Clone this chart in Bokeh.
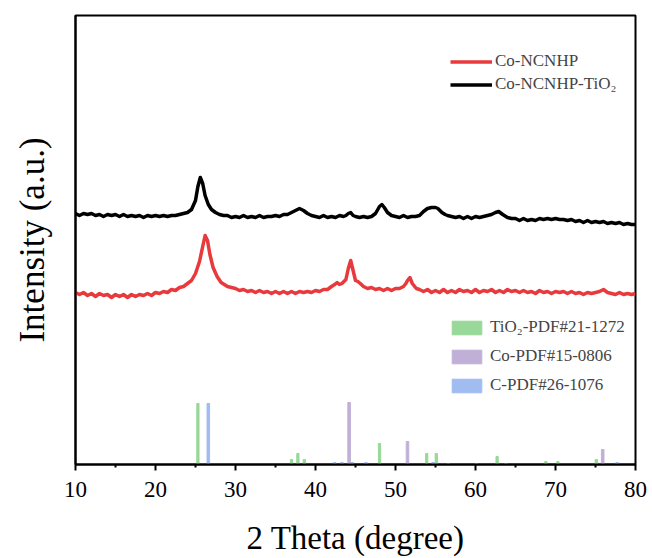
from bokeh.plotting import figure
from bokeh.models import Legend, LegendItem, Range1d, FixedTicker
from bokeh.embed import file_html
from bokeh.resources import INLINE

# ---- data ----
tio2_two_theta = [10, 10.5, 11, 11.5, 12, 12.5, 13, 13.5, 14, 14.5, 15, 15.5, 16, 16.5, 17, 17.5, 18,
                  18.5, 19, 19.5, 20, 20.5, 21, 21.5, 22, 22.5, 23, 23.5, 24, 24.5, 25.0, 25.3, 25.6,
                  25.9, 26.2, 26.6, 27.0, 27.5, 28, 28.5, 29, 29.5, 30, 30.5, 31, 31.5, 32, 32.5, 33,
                  33.5, 34, 34.5, 35, 35.5, 36, 36.5, 37.0, 37.5, 38.0, 38.5, 39.0, 39.5, 40, 40.5, 41,
                  41.5, 42, 42.5, 43, 43.5, 43.8, 44.1, 44.4, 44.7, 45.0, 45.5, 46, 46.5, 47, 47.5,
                  48.0, 48.3, 48.6, 49.0, 49.5, 50, 50.5, 51, 51.5, 52, 52.5, 53, 53.5, 54.0, 54.5,
                  55.0, 55.3, 55.8, 56.2, 56.5, 57, 57.5, 58, 58.5, 59, 59.5, 60, 60.5, 61, 61.5, 62,
                  62.5, 62.9, 63.4, 64, 64.5, 65, 65.5, 66, 66.5, 67, 67.5, 68, 68.5, 69, 69.5, 70,
                  70.5, 71, 71.5, 72, 72.5, 73, 73.5, 74, 74.5, 75, 75.5, 76, 76.5, 77, 77.5, 78, 78.5,
                  79, 79.5, 80]
tio2_intensity = [251, 249, 251, 250, 251, 249, 250, 248, 250, 249, 250, 248, 250, 248, 249, 248, 249,
                  247, 249, 248, 249, 248, 249, 248, 249, 249, 250, 251, 252, 255, 264, 278, 287,
                  281, 269, 260, 255, 252, 250, 249, 249, 247, 248, 247, 249, 247, 248, 247, 249,
                  247, 248, 248, 249, 248, 250, 250, 252, 254, 256, 254, 251, 249, 248, 247, 249,
                  247, 248, 247, 249, 248, 249, 251, 252, 249, 248, 247, 248, 247, 248, 251,
                  258, 260, 257, 252, 249, 248, 247, 249, 247, 248, 248, 249, 253, 256, 257,
                  257, 256, 252, 250, 249, 248, 247, 248, 246, 248, 246, 248, 247, 248, 249, 250,
                  252, 253, 250, 247, 246, 246, 244, 246, 244, 245, 244, 246, 245, 246, 245, 246,
                  245, 245, 244, 245, 243, 244, 242, 244, 242, 243, 242, 243, 241, 242, 241, 242, 240,
                  241, 240, 240]

co_two_theta = [10, 10.5, 11, 11.5, 12, 12.5, 13, 13.5, 14, 14.5, 15, 15.5, 16, 16.5, 17, 17.5, 18,
                18.5, 19, 19.5, 20, 20.5, 21, 21.5, 22, 22.5, 23, 23.5, 24, 24.5, 25.0, 25.5, 25.9,
                26.2, 26.5, 26.8, 27.2, 27.7, 28.2, 28.6, 29, 29.5, 30, 30.5, 31, 31.5, 32, 32.5, 33,
                33.5, 34, 34.5, 35, 35.5, 36, 36.5, 37, 37.5, 38, 38.5, 39, 39.5, 40, 40.5, 41, 41.5,
                42, 42.4, 42.7, 43.0, 43.3, 43.8, 44.1, 44.4, 44.7, 45.0, 45.3, 45.6, 46, 46.5, 47,
                47.5, 48, 48.5, 49, 49.5, 50, 50.5, 51, 51.3, 51.5, 51.8, 52.1, 52.6, 53, 53.5, 54,
                54.5, 55, 55.5, 56, 56.5, 57, 57.5, 58, 58.5, 59, 59.5, 60, 60.5, 61, 61.5, 62, 62.5,
                63, 63.5, 64, 64.5, 65, 65.5, 66, 66.5, 67, 67.5, 68, 68.5, 69, 69.5, 70, 70.5, 71,
                71.5, 72, 72.5, 73, 73.5, 74, 74.5, 75, 75.5, 76, 76.5, 77, 77.5, 78, 78.5, 79, 79.5,
                80]
co_intensity = [172, 170, 172, 169, 171, 168, 171, 169, 170, 167, 170, 168, 170, 167, 170, 168, 170,
                169, 171, 169, 172, 171, 173, 172, 175, 174, 177, 178, 181, 184, 191, 203, 218,
                229, 224, 210, 197, 188, 182, 180, 178, 177, 176, 174, 175, 173, 174, 172, 174,
                172, 173, 171, 173, 171, 173, 171, 173, 171, 173, 172, 173, 172, 174, 173, 175, 175,
                178, 180, 182, 180, 181, 185, 196, 204, 194, 184, 183, 181, 178, 176, 177,
                175, 176, 174, 176, 174, 176, 176, 178, 181, 184, 187, 181, 176, 175, 173, 175,
                172, 174, 172, 175, 172, 174, 172, 175, 173, 174, 172, 175, 172, 174, 173, 175, 172,
                174, 172, 175, 173, 174, 172, 174, 172, 173, 171, 174, 172, 173, 171, 173, 172, 173,
                171, 173, 171, 172, 170, 172, 171, 172, 173, 175, 172, 171, 170, 172, 170, 171, 170,
                171]

pdf_tio2_pos = [25.3, 37.0, 37.8, 38.6, 48.0, 53.9, 55.1, 62.7, 68.8, 70.3, 75.1]
pdf_tio2_int = [61, 5, 11, 5, 21, 11, 11, 8, 3, 3, 5]

pdf_co_pos = [44.2, 51.5, 75.9]
pdf_co_int = [62, 23, 15]

pdf_c_pos = [26.6, 42.4, 43.3, 44.6, 46.3, 54.7, 56.6, 60.1, 63.8, 77.7]
pdf_c_int = [61, 2, 2, 2, 2, 2, 1, 1, 1, 2]

x_ticks = [10, 20, 30, 40, 50, 60, 70, 80]
x_minor_ticks = [15, 25, 35, 45, 55, 65, 75]

# ---- styling ----
RED = "#e8393c"
BLACK = "#000000"
GREEN = "#98d898"
PURPLE = "#c0b0d8"
BLUE = "#a0bcf0"
FONT = "Liberation Serif"

p = figure(width=652, height=558, output_backend="svg", toolbar_location=None,
           x_range=Range1d(10, 80), y_range=Range1d(0, 449),
           min_border_left=75, min_border_right=17, min_border_top=15, min_border_bottom=94)
p.background_fill_color = "white"
p.border_fill_color = "white"
p.grid.visible = False
p.outline_line_color = "black"
p.outline_line_width = 2

r_co = p.line(co_two_theta, co_intensity, line_color=RED, line_width=3.5, line_join="round")
r_ti = p.line(tio2_two_theta, tio2_intensity, line_color=BLACK, line_width=3.5, line_join="round")

b_ti = p.vbar(x=pdf_tio2_pos, top=pdf_tio2_int, bottom=0, width=0.28,
              fill_color=GREEN, line_color=GREEN)
b_co = p.vbar(x=pdf_co_pos, top=pdf_co_int, bottom=0, width=0.32,
              fill_color=PURPLE, line_color=PURPLE)
b_c = p.vbar(x=pdf_c_pos, top=pdf_c_int, bottom=0, width=0.32,
             fill_color=BLUE, line_color=BLUE)

# x axis
xa = p.xaxis[0]
xa.ticker = FixedTicker(ticks=x_ticks, minor_ticks=x_minor_ticks)
xa.axis_line_width = 2
xa.major_tick_line_width = 2
xa.minor_tick_line_width = 2
xa.major_tick_out = 6
xa.major_tick_in = 0
xa.minor_tick_out = 3
xa.minor_tick_in = 0
xa.major_label_text_font = FONT
xa.major_label_text_font_size = "23px"
xa.major_label_text_color = "black"
xa.major_label_standoff = 11
xa.axis_label = "2 Theta (degree)"
xa.axis_label_text_font = FONT
xa.axis_label_text_font_size = "33px"
xa.axis_label_text_font_style = "normal"
xa.axis_label_text_color = "black"
xa.axis_label_standoff = 20

# y axis
ya = p.yaxis[0]
ya.ticker = FixedTicker(ticks=[])
ya.axis_line_width = 2
ya.major_tick_line_color = None
ya.minor_tick_line_color = None
ya.major_label_text_font_size = "0px"
ya.axis_label = "Intensity (a.u.)"
ya.axis_label_text_font = FONT
ya.axis_label_text_font_size = "35px"
ya.axis_label_text_font_style = "normal"
ya.axis_label_text_color = "black"
ya.axis_label_standoff = 24

leg1 = Legend(items=[LegendItem(label="Co-NCNHP", renderers=[r_co]),
                     LegendItem(label="Co-NCNHP-TiO\u2082", renderers=[r_ti])],
              location=(375, 370), padding=0, margin=0, spacing=3,
              glyph_width=42, glyph_height=17, label_height=17, label_standoff=3,
              label_text_font=FONT, label_text_font_size="17px",
              border_line_color=None, background_fill_alpha=0)
leg2 = Legend(items=[LegendItem(label="TiO\u2082-PDF#21-1272", renderers=[b_ti]),
                     LegendItem(label="Co-PDF#15-0806", renderers=[b_co]),
                     LegendItem(label="C-PDF#26-1076", renderers=[b_c])],
              location=(373, 69), padding=0, margin=0, spacing=9,
              glyph_width=37, glyph_height=17, label_height=17, label_standoff=5,
              label_text_font=FONT, label_text_font_size="17px",
              border_line_color=None, background_fill_alpha=0)
p.add_layout(leg1)
p.add_layout(leg2)

open("out.html", "w").write(file_html(p, INLINE))
